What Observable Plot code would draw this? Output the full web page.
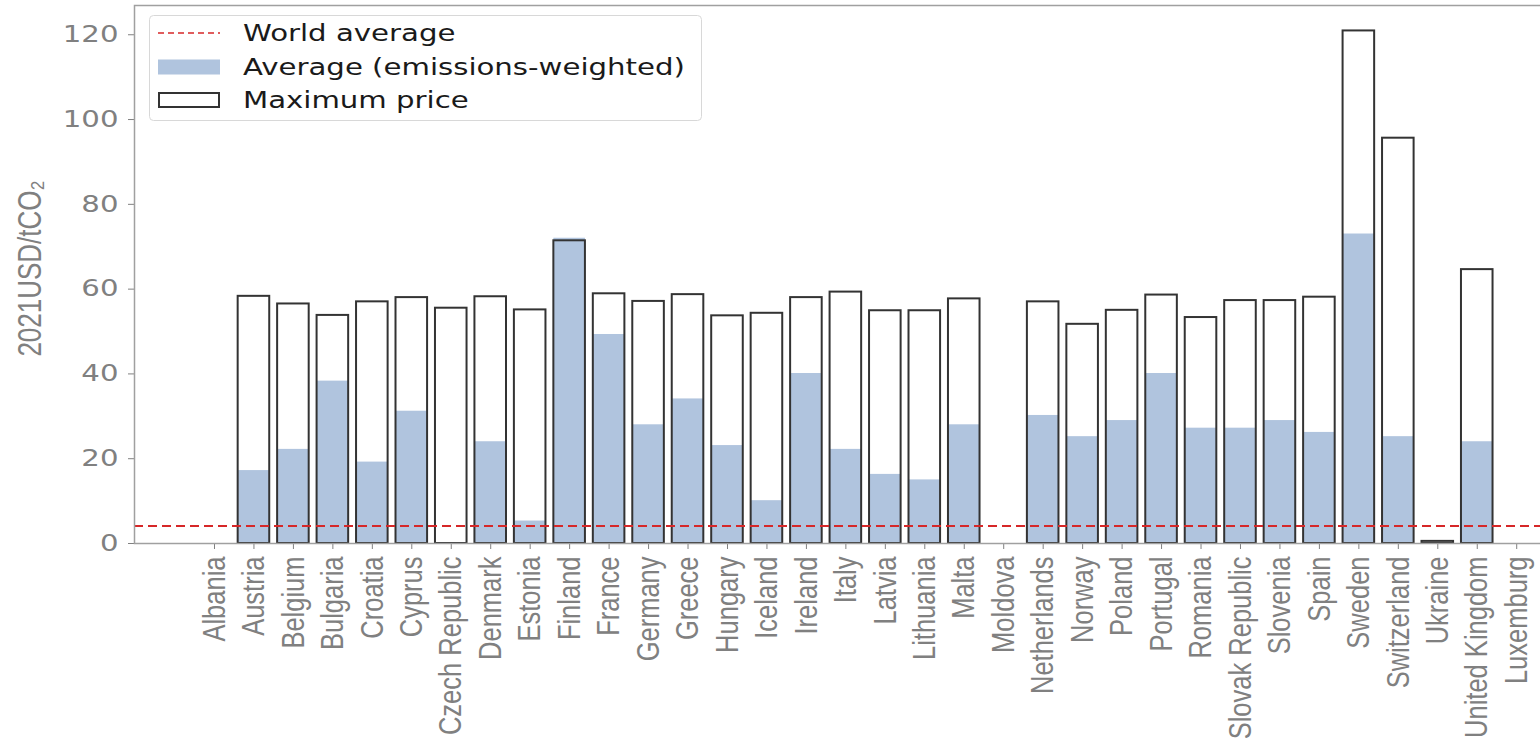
<!DOCTYPE html>
<html>
<head>
<meta charset="utf-8">
<script src="https://cdn.jsdelivr.net/npm/d3@7"></script>
<script src="https://cdn.jsdelivr.net/npm/@observablehq/plot@0.6"></script>
<style>
  html, body { margin: 0; padding: 0; background: #fff; overflow: hidden; }
  #chart { position: relative; width: 1540px; height: 749px; }
  #legend { position: absolute; left: 149px; top: 15px; }
</style>
</head>
<body>
<div id="chart"></div>
<script>
// Carbon prices in Europe, 2021 USD per tonne of CO2
const countries = [
  "Albania", "Austria", "Belgium", "Bulgaria", "Croatia", "Cyprus", "Czech Republic",
  "Denmark", "Estonia", "Finland", "France", "Germany", "Greece", "Hungary", "Iceland",
  "Ireland", "Italy", "Latvia", "Lithuania", "Malta", "Moldova", "Netherlands", "Norway",
  "Poland", "Portugal", "Romania", "Slovak Republic", "Slovenia", "Spain", "Sweden",
  "Switzerland", "Ukraine", "United Kingdom", "Luxemburg"
];

// Maximum price per country (null = no price)
const maxPrice = [
  null, 58.3, 56.5, 53.8, 57.0, 58.0, 55.5,
  58.2, 55.1, 71.4, 58.9, 57.1, 58.7, 53.7, 54.3,
  58.0, 59.3, 54.9, 54.9, 57.7, null, 57.0, 51.7,
  55.0, 58.6, 53.3, 57.3, 57.3, 58.1, 120.9,
  95.6, 0.5, 64.6, null
];

// Emissions-weighted average price per country (null = none)
const avgPrice = [
  null, 17.2, 22.2, 38.3, 19.2, 31.2, null,
  24.0, 5.3, 72.0, 49.3, 28.0, 34.1, 23.1, 10.1,
  40.1, 22.2, 16.3, 15.0, 28.0, null, 30.2, 25.2,
  29.0, 40.1, 27.2, 27.2, 29.0, 26.2, 73.0,
  25.2, null, 24.0, null
];

const worldAverage = 4.1;
const yTicks = [0, 20, 40, 60, 80, 100, 120];
const yLabel = "2021USD/tCO₂";
const legendLabels = ["World average", "Average (emissions-weighted)", "Maximum price"];

const rows = countries.map((country, i) => ({country, max: maxPrice[i], avg: avgPrice[i]}));

const blue = "#b0c4de";
const edge = "#333333";
const red = "#d62728";
const grey = "#808080";

const chart = Plot.plot({
  width: 1540,
  height: 749,
  marginLeft: 134,
  marginRight: -60,
  marginTop: 5,
  marginBottom: 206,
  style: {fontFamily: "DejaVu Sans", fontSize: "23px", color: grey, background: "white"},
  x: {
    type: "band",
    domain: countries,
    range: [134, 1596.2],
    paddingInner: 0.2,
    paddingOuter: 1.627,
    round: false,
    label: null,
    tickRotate: -90,
    tickSize: 6,
    tickPadding: 7
  },
  y: {
    domain: [0, 126.9],
    ticks: yTicks,
    tickSize: 6,
    tickPadding: 10,
    label: null
  },
  marks: [
    Plot.barY(rows, {x: "country", y: "avg", fill: blue}),
    Plot.barY(rows, {x: "country", y: "max", fill: "none", stroke: edge, strokeWidth: 2}),
    Plot.ruleY([worldAverage], {stroke: red, strokeWidth: 2, strokeDasharray: "9,5"}),
    Plot.frame({stroke: "#a0a0a0", strokeWidth: 1.5}),
    Plot.text([yLabel], {frameAnchor: "left", textAnchor: "middle", rotate: -90, dx: -104, dy: -6, fill: grey})
  ]
});

document.getElementById("chart").appendChild(chart);

// Widen glyphs about their anchor point
function stretch(el, sx, sy) {
  const x = +el.getAttribute("x") || 0;
  const y = +el.getAttribute("y") || 0;
  const t = el.getAttribute("transform") || "";
  el.setAttribute("transform", `${t} translate(${x},${y}) scale(${sx},${sy}) translate(${-x},${-y})`);
}
const svg = d3.select(chart.tagName.toLowerCase() === "svg" ? chart : chart.querySelector("svg"));
svg.selectAll('g[aria-label="y-axis tick label"] text').each(function() { stretch(this, 1.27, 1); });
svg.selectAll('g[aria-label="x-axis tick label"] text')
  .style("font-family", "'Liberation Sans', Arial, sans-serif")
  .style("font-size", "25.5px")
  .each(function() { stretch(this, 1, 1.25); });
svg.selectAll('g[aria-label="text"] text')
  .style("font-family", "'Liberation Sans', Arial, sans-serif")
  .style("font-size", "26px")
  .each(function() { stretch(this, 1, 1.25); });

// Legend box in the upper left of the plot area
const lg = d3.select("#chart").append("svg")
  .attr("id", "legend")
  .attr("width", 556)
  .attr("height", 108);
lg.append("rect")
  .attr("x", 0.5).attr("y", 0.5).attr("width", 552).attr("height", 105).attr("rx", 4)
  .attr("fill", "white").attr("fill-opacity", 0.85)
  .attr("stroke", "#d8d8d8").attr("stroke-width", 1);
const rowY = [18, 52, 85];
lg.append("line")
  .attr("x1", 9).attr("x2", 71).attr("y1", rowY[0]).attr("y2", rowY[0])
  .attr("stroke", red).attr("stroke-width", 1.6).attr("stroke-dasharray", "6,4");
lg.append("rect")
  .attr("x", 9).attr("y", rowY[1] - 7.5).attr("width", 62).attr("height", 15)
  .attr("fill", blue);
lg.append("rect")
  .attr("x", 10).attr("y", rowY[2] - 7).attr("width", 60).attr("height", 14)
  .attr("fill", "none").attr("stroke", edge).attr("stroke-width", 2);
lg.selectAll("text.lab")
  .data(legendLabels)
  .join("text")
  .attr("class", "lab")
  .attr("transform", (d, i) => `translate(94,${rowY[i]}) scale(1.27,1)`)
  .attr("dy", "0.36em")
  .attr("font-family", "DejaVu Sans")
  .attr("font-size", 23)
  .attr("fill", "#1a1a1a")
  .text(d => d);
</script>
</body>
</html>
